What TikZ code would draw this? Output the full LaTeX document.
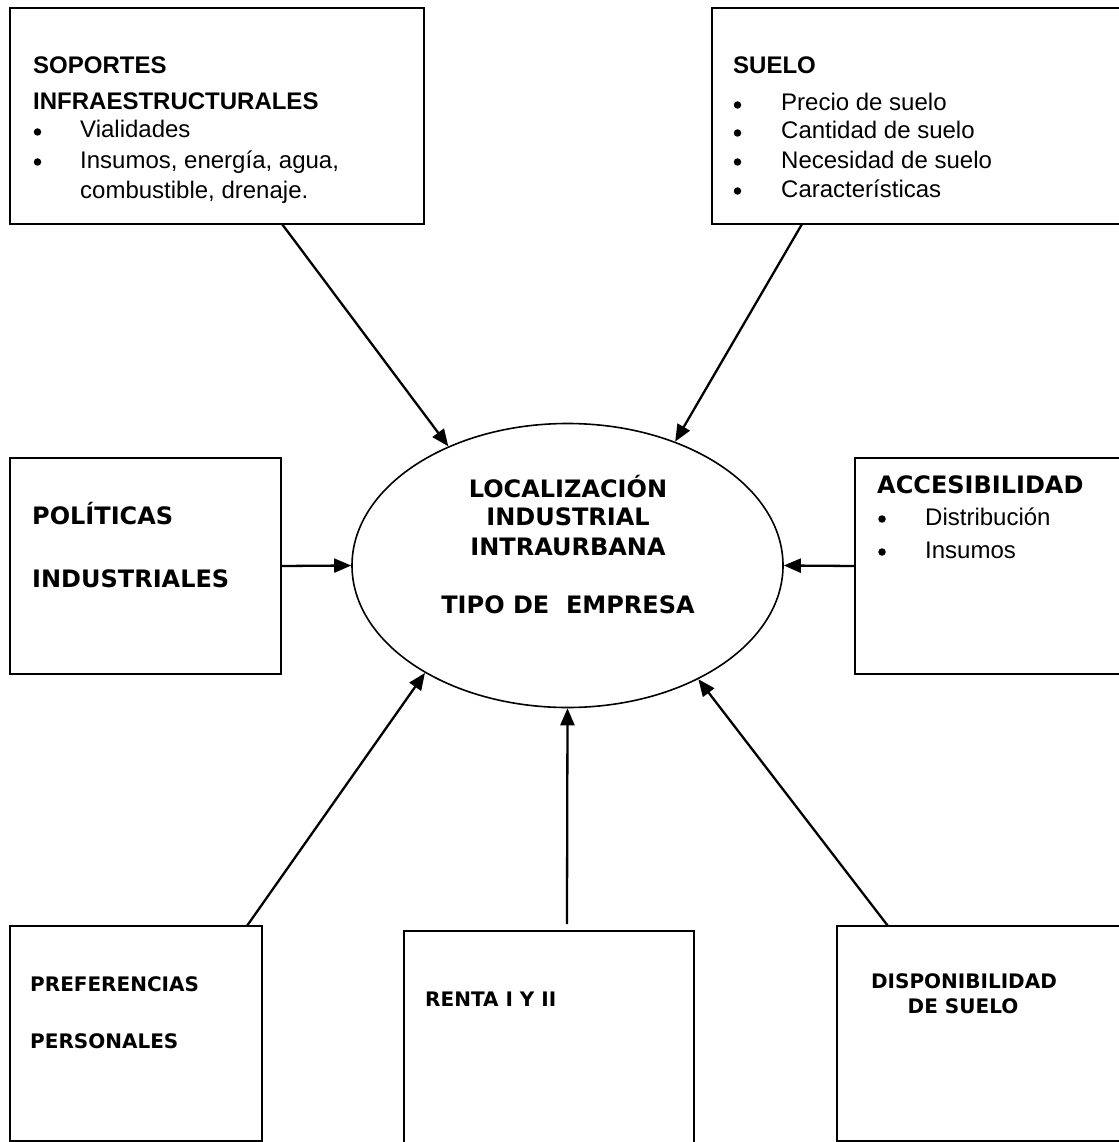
\documentclass[tikz,border=0pt]{standalone}
\usepackage{fontspec}
\setmainfont{Liberation Sans}
\newfontfamily\verd{DejaVu Sans}
\usetikzlibrary{arrows.meta,calc,shapes.geometric}

\begin{document}
\begin{tikzpicture}[x=1pt,y=-1pt,
  box/.style={draw, line width=2pt, rectangle, inner sep=0pt, outer sep=0pt, anchor=north west},
  txt/.style={anchor=base west, inner sep=0pt, font=\fontsize{24}{28}\selectfont},
  txtbf/.style={anchor=base west, inner sep=0pt, font=\fontsize{24}{28}\selectfont\bfseries},
  bul/.style={circle, fill, inner sep=0pt, minimum size=7.5pt},
  vhead/.style={anchor=base west, inner sep=0pt, font=\fontsize{24}{28}\selectfont\verd\bfseries},
  vcent/.style={anchor=base, inner sep=0pt, font=\fontsize{24}{28}\selectfont\verd\bfseries},
  vsmall/.style={anchor=base west, inner sep=0pt, font=\fontsize{20}{24}\selectfont\verd\bfseries},
  vsmallc/.style={anchor=base, inner sep=0pt, font=\fontsize{20}{24}\selectfont\verd\bfseries},
  link/.style={line width=2.3pt, -{Triangle[length=17pt,width=14pt]}}
]
\useasboundingbox (0,0) rectangle (1118,1142);

% boxes
\node[box, minimum width=414pt, minimum height=216pt] (sop) at (10,8) {};
\node[box, minimum width=413pt, minimum height=216pt] (sue) at (712,8) {};
\node[box, minimum width=271pt, minimum height=216pt] (pol) at (10,458) {};
\node[box, minimum width=270pt, minimum height=216pt] (acc) at (855,458) {};
\node[box, minimum width=252pt, minimum height=215pt] (pre) at (10,926) {};
\node[box, minimum width=290pt, minimum height=225pt] (ren) at (404,931) {};
\node[box, minimum width=288pt, minimum height=215pt] (dis) at (837,926) {};

% central ellipse
\node[draw, ellipse, line width=1.6pt, minimum width=431pt, minimum height=284pt, inner sep=0pt] (loc) at (567.5,565.5) {};

% infrastructure supports
\node[txtbf] (sopa) at (33,74) {SOPORTES};
\node[txtbf] (sopb) at (33,110) {INFRAESTRUCTURALES};
\node[bul] (sopd1) at (37.5,132) {};
\node[txt] (sopc) at (80,138) {Vialidades};
\node[bul] (sopd2) at (37.5,162) {};
\node[txt] (sope) at (80,168) {Insumos, energía, agua,};
\node[txt] (sopf) at (80,198) {combustible, drenaje.};

% land
\node[txtbf] (suea) at (733,74) {SUELO};
\node[bul] (sued1) at (737.5,105) {};
\node[txt] (sueb) at (781,111) {Precio de suelo};
\node[bul] (sued2) at (737.5,133) {};
\node[txt] (suec) at (781,139) {Cantidad de suelo};
\node[bul] (sued3) at (737.5,162) {};
\node[txt] (sued) at (781,168) {Necesidad de suelo};
\node[bul] (sued4) at (737.5,191) {};
\node[txt] (suee) at (781,197) {Características};

% industrial policies
\node[vhead] (pola) at (32,524) {POLÍTICAS};
\node[vhead] (polb) at (32,587) {INDUSTRIALES};

% accessibility
\node[vhead] (acca) at (877,493) {ACCESIBILIDAD};
\node[bul] (accd1) at (882,519) {};
\node[txt] (accb) at (925,525) {Distribución};
\node[bul] (accd2) at (882,552) {};
\node[txt] (accc) at (925,558) {Insumos};

% centre text
\node[vcent] (loca) at (568,497) {LOCALIZACIÓN};
\node[vcent] (locb) at (568,525) {INDUSTRIAL};
\node[vcent] (locc) at (568,555) {INTRAURBANA};
\node[vcent] (locd) at (568,613) {TIPO DE~~EMPRESA};

% bottom boxes
\node[vsmall] (prea) at (30,991) {PREFERENCIAS};
\node[vsmall] (preb) at (30,1048) {PERSONALES};
\node[vsmall] (rena) at (425,1006) {RENTA I Y II};
\node[vsmallc] (disa) at (964,988) {DISPONIBILIDAD};
\node[vsmallc] (disb) at (963,1013) {DE SUELO};

% connectors
\draw[link] ($(sop.south west)!0.657!(sop.south east)$) -- (loc.135);
\draw[link] ($(sue.south west)!0.218!(sue.south east)$) -- (loc.49);
\draw[link] (pol.east) -- (loc.west);
\draw[link] (acc.west) -- (loc.east);
\draw[link] ($(pre.north west)!0.94!(pre.north east)$) -- (loc.217);
\draw[link] ($(ren.north west)!0.562!(ren.north east)+(0,-7)$) -- (loc.270);
\draw[link] ($(dis.north west)!0.177!(dis.north east)$) -- (loc.319);
\end{tikzpicture}
\end{document}
